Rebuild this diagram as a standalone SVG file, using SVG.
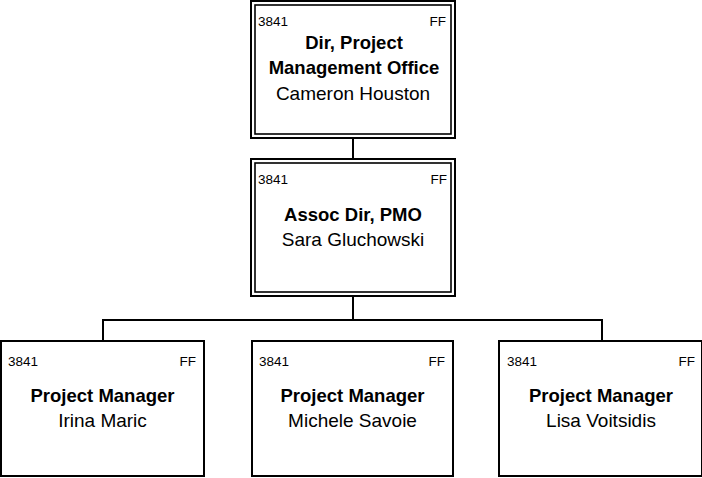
<svg xmlns="http://www.w3.org/2000/svg" width="702" height="478" viewBox="0 0 702 478">
<style>
.bg{fill:#fff}
.box{fill:#fff;stroke:#000;stroke-width:2}
.inner{fill:none;stroke:#000;stroke-width:1.6}
.conn{fill:none;stroke:#000;stroke-width:2}
text{font-family:"Liberation Sans",Arial,sans-serif;fill:#000}
.code{font-size:13.5px}
.ff{font-size:13.5px;text-anchor:end}
.title{font-size:18.5px;font-weight:bold;text-anchor:middle}
.name{font-size:19px;text-anchor:middle}
</style>
<rect class="bg" x="0" y="0" width="702" height="478"/>
<g id="connectors">
<path class="conn" d="M353 138V159"/>
<path class="conn" d="M353 296V320"/>
<path class="conn" d="M103 341V320H602V341"/>
</g>
<g id="node-dir">
<rect class="box" x="251" y="1" width="204" height="137"/>
<rect class="inner" x="255" y="5" width="196" height="129"/>
<text class="code" x="258" y="26">3841</text>
<text class="ff" x="446" y="26">FF</text>
<text class="title" x="354" y="49">Dir, Project</text>
<text class="title" x="354" y="74">Management Office</text>
<text class="name" x="353" y="100">Cameron Houston</text>
</g>
<g id="node-assoc">
<rect class="box" x="251" y="159" width="204" height="137"/>
<rect class="inner" x="255" y="163" width="196" height="129"/>
<text class="code" x="258" y="184">3841</text>
<text class="ff" x="447" y="184">FF</text>
<text class="title" x="353" y="221">Assoc Dir, PMO</text>
<text class="name" x="353" y="246">Sara Gluchowski</text>
</g>
<g id="node-pm1">
<rect class="box" x="1" y="341" width="203" height="135"/>
<text class="code" x="8" y="366">3841</text>
<text class="ff" x="196" y="366">FF</text>
<text class="title" x="102.5" y="402">Project Manager</text>
<text class="name" x="102.5" y="427">Irina Maric</text>
</g>
<g id="node-pm2">
<rect class="box" x="252" y="341" width="201" height="135"/>
<text class="code" x="259" y="366">3841</text>
<text class="ff" x="445" y="366">FF</text>
<text class="title" x="352.5" y="402">Project Manager</text>
<text class="name" x="352.5" y="427">Michele Savoie</text>
</g>
<g id="node-pm3">
<rect class="box" x="499" y="341" width="203" height="135"/>
<text class="code" x="507" y="366">3841</text>
<text class="ff" x="695" y="366">FF</text>
<text class="title" x="601" y="402">Project Manager</text>
<text class="name" x="601" y="427">Lisa Voitsidis</text>
</g>
</svg>
